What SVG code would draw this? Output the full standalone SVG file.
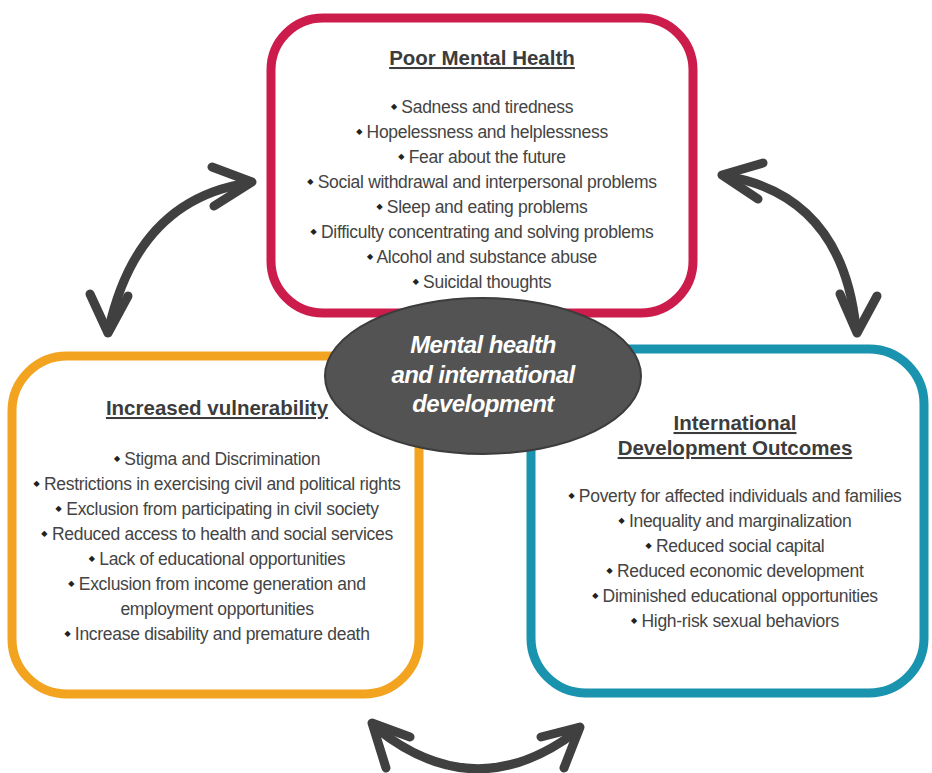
<svg xmlns="http://www.w3.org/2000/svg" width="932" height="773" viewBox="0 0 932 773">
  <style>
    .box { fill: #ffffff; stroke-width: 9; }
    .title { font-family: "Liberation Sans", Arial, sans-serif; font-size: 20.5px; font-weight: bold; fill: #3c3c3c; text-anchor: middle; text-decoration: underline; }
    .item { font-family: "Liberation Sans", Arial, sans-serif; font-size: 17.5px; fill: #444444; text-anchor: middle; letter-spacing: -0.3px; }
    .dot { font-family: "DejaVu Sans", sans-serif; font-size: 8px; fill: #222222; }
    .hub { font-family: "Liberation Sans", Arial, sans-serif; font-size: 24px; font-weight: bold; font-style: italic; fill: #ffffff; text-anchor: middle; letter-spacing: -0.6px; }
    .arrow { fill: none; stroke: #404040; stroke-width: 9; stroke-linecap: round; stroke-linejoin: round; }
  </style>

  <rect width="932" height="773" fill="#ffffff"/>

  <!-- top box -->
  <g id="poor-mental-health">
    <rect class="box" x="271" y="18" width="422" height="295" rx="52" stroke="#cc1c4c"/>
    <text class="title" x="482" y="65">Poor Mental Health</text>
    <text class="item" x="482" y="113"><tspan class="dot" baseline-shift="4">◆</tspan> Sadness and tiredness</text>
    <text class="item" x="482" y="138"><tspan class="dot" baseline-shift="4">◆</tspan> Hopelessness and helplessness</text>
    <text class="item" x="482" y="163"><tspan class="dot" baseline-shift="4">◆</tspan> Fear about the future</text>
    <text class="item" x="482" y="188"><tspan class="dot" baseline-shift="4">◆</tspan> Social withdrawal and interpersonal problems</text>
    <text class="item" x="482" y="213"><tspan class="dot" baseline-shift="4">◆</tspan> Sleep and eating problems</text>
    <text class="item" x="482" y="238"><tspan class="dot" baseline-shift="4">◆</tspan> Difficulty concentrating and solving problems</text>
    <text class="item" x="482" y="263"><tspan class="dot" baseline-shift="4">◆</tspan> Alcohol and substance abuse</text>
    <text class="item" x="482" y="288"><tspan class="dot" baseline-shift="4">◆</tspan> Suicidal thoughts</text>
  </g>

  <!-- left box -->
  <g id="increased-vulnerability">
    <rect class="box" x="12" y="356" width="407" height="338" rx="55" stroke="#f2a31f"/>
    <text class="title" x="217" y="415">Increased vulnerability</text>
    <text class="item" x="217" y="465"><tspan class="dot" baseline-shift="4">◆</tspan> Stigma and Discrimination</text>
    <text class="item" x="217" y="490"><tspan class="dot" baseline-shift="4">◆</tspan> Restrictions in exercising civil and political rights</text>
    <text class="item" x="217" y="515"><tspan class="dot" baseline-shift="4">◆</tspan><tspan dx="5">Exclusion from participating in civil society</tspan></text>
    <text class="item" x="217" y="540"><tspan class="dot" baseline-shift="4">◆</tspan><tspan dx="5">Reduced access to health and social services</tspan></text>
    <text class="item" x="217" y="565"><tspan class="dot" baseline-shift="4">◆</tspan> Lack of educational opportunities</text>
    <text class="item" x="217" y="590"><tspan class="dot" baseline-shift="4">◆</tspan> Exclusion from income generation and</text>
    <text class="item" x="217" y="615">employment opportunities</text>
    <text class="item" x="217" y="640"><tspan class="dot" baseline-shift="4">◆</tspan> Increase disability and premature death</text>
  </g>

  <!-- right box -->
  <g id="development-outcomes">
    <rect class="box" x="531" y="349" width="393" height="344" rx="55" stroke="#1a93ae"/>
    <text class="title" x="735" y="430">International</text>
    <text class="title" x="735" y="455">Development Outcomes</text>
    <text class="item" x="735" y="502"><tspan class="dot" baseline-shift="4">◆</tspan> Poverty for affected individuals and families</text>
    <text class="item" x="735" y="527"><tspan class="dot" baseline-shift="4">◆</tspan> Inequality and marginalization</text>
    <text class="item" x="735" y="552"><tspan class="dot" baseline-shift="4">◆</tspan> Reduced social capital</text>
    <text class="item" x="735" y="577"><tspan class="dot" baseline-shift="4">◆</tspan> Reduced economic development</text>
    <text class="item" x="735" y="602"><tspan class="dot" baseline-shift="4">◆</tspan> Diminished educational opportunities</text>
    <text class="item" x="735" y="627"><tspan class="dot" baseline-shift="4">◆</tspan> High-risk sexual behaviors</text>
  </g>

  <!-- central hub -->
  <g id="hub">
    <ellipse cx="483" cy="376" rx="158" ry="78" fill="#535353" stroke="#3c3c3c" stroke-width="2"/>
    <text class="hub" x="483" y="353">Mental health</text>
    <text class="hub" x="483" y="383">and international</text>
    <text class="hub" x="483" y="412">development</text>
  </g>

  <!-- two-way curved arrows -->
  <g id="connectors">
    <path class="arrow" d="M248,183 Q138,200 109,328"/>
    <polyline class="arrow" points="212,167 252,182 214,206"/>
    <polyline class="arrow" points="90,294 108,333 128,296"/>

    <path class="arrow" d="M726,176 Q842,196 856,328"/>
    <polyline class="arrow" points="763,163 722,175 758,199"/>
    <polyline class="arrow" points="840,294 857,333 877,296"/>

    <path class="arrow" d="M376,728 Q476,808 577,731"/>
    <polyline class="arrow" points="410,737 372,723 386,768"/>
    <polyline class="arrow" points="541,737 580,727 564,768"/>
  </g>
</svg>
